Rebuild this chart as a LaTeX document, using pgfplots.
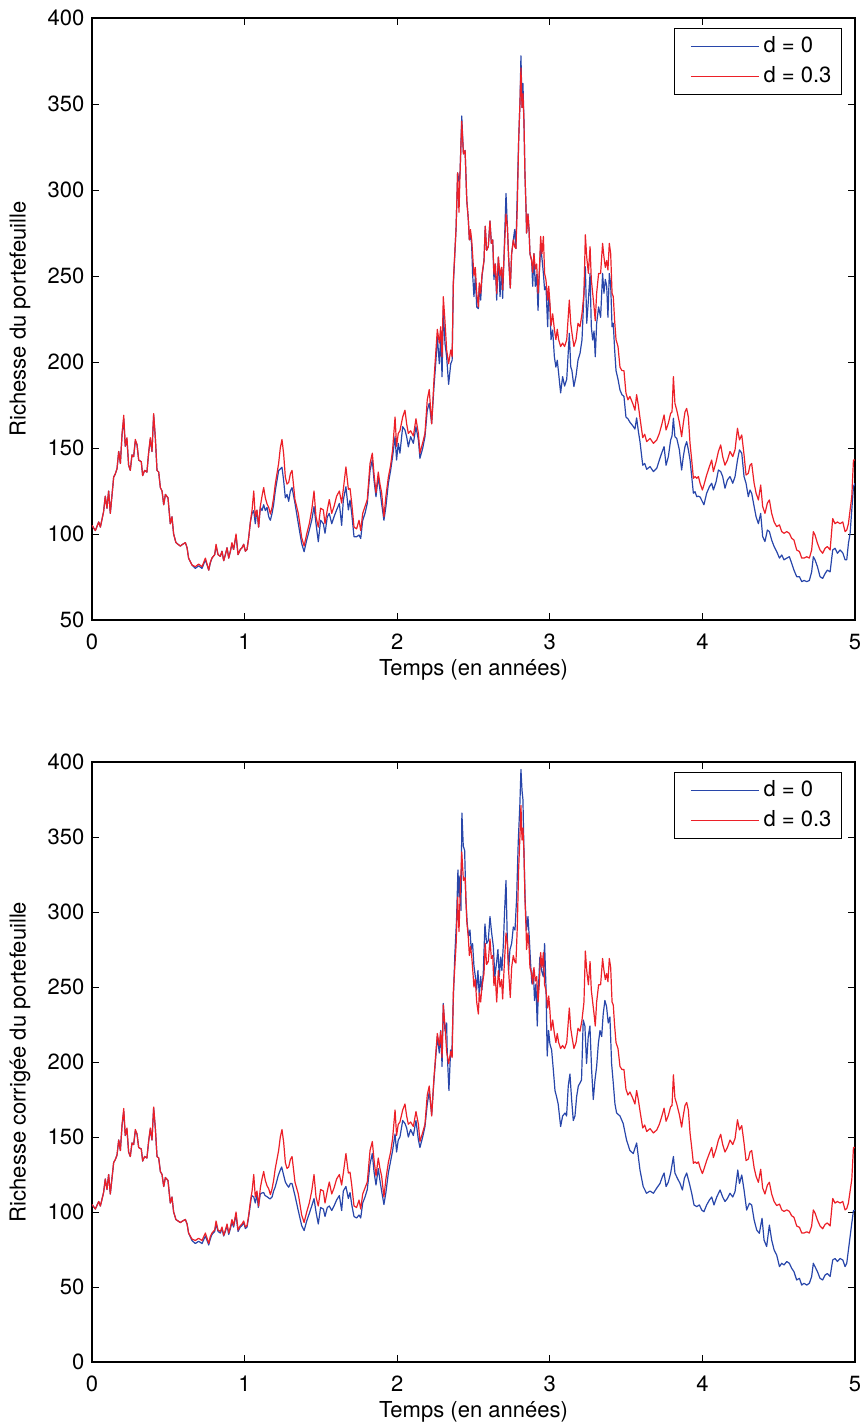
\documentclass[border=0pt]{standalone}
\usepackage{pgfplots}
\pgfplotsset{compat=1.18}
\usepackage{pgfplotstable}
\usepackage{fontspec}
\setmainfont{TeX Gyre Heros}
\definecolor{mblue}{RGB}{40,70,170}
\definecolor{mred}{RGB}{236,32,40}

\pgfplotstableread{
x y
0.000 105
0.022 102
0.044 107
0.055 104
0.076 113
0.087 122
0.098 115
0.109 125
0.120 112
0.142 133
0.153 135
0.164 138
0.175 148
0.186 141
0.197 158
0.208 169
0.218 151
0.229 156
0.240 140
0.251 137
0.262 146
0.273 145
0.284 155
0.295 152
0.306 143
0.323 142
0.332 134
0.345 137
0.360 136
0.371 147
0.382 156
0.393 148
0.404 170
0.415 156
0.426 137
0.437 136
0.448 127
0.459 125
0.470 117
0.481 123
0.498 121
0.513 106
0.524 110
0.535 100
0.550 95
0.564 94
0.579 93
0.594 94
0.612 95
0.623 92
0.633 86
0.655 82
0.677 81
0.699 82.5
0.721 81
0.743 86
0.754 82.5
0.765 79
0.775 83.5
0.786 86
0.804 88
0.813 94
0.826 88
0.841 87
0.852 90
0.863 84.5
0.874 88
0.885 92
0.896 86
0.907 90
0.917 95
0.928 91
0.944 100
0.957 88
0.972 91
0.983 92
0.994 94
1.005 90
1.016 91
1.027 98
1.038 107
1.049 114
1.060 125
1.070 110
1.081 114
1.092 104
1.103 116
1.114 122
1.125 127
1.136 121
1.147 117.5
1.158 115.5
1.169 111.6
1.180 115.5
1.190 121
1.201 129
1.212 135
1.223 141
1.234 150
1.245 155
1.256 146.5
1.267 133
1.278 129
1.289 130
1.300 135
1.311 137
1.330 120
1.352 112
1.374 98
1.390 93
1.407 100
1.424 106
1.440 114
1.455 125
1.468 110
1.483 104
1.498 115
1.516 114
1.527 106
1.542 114
1.555 120
1.571 112
1.586 116
1.603 122
1.621 125
1.636 118
1.647 126
1.664 139
1.680 126
1.691 126.5
1.702 118
1.717 104
1.734 103
1.750 108
1.761 102
1.774 112
1.789 116
1.804 120
1.822 141
1.837 147
1.848 135
1.861 124
1.876 136
1.887 129
1.898 124
1.913 110
1.926 122
1.942 133
1.957 140
1.970 149
1.986 168
1.996 151
2.007 158.5
2.018 160
2.036 168
2.051 172
2.062 164
2.073 158.5
2.088 160
2.106 157
2.123 167
2.139 158.5
2.149 147
2.167 153
2.182 158.5
2.197 178
2.210 184
2.226 164
2.241 189.5
2.254 207
2.263 219
2.276 211
2.285 220.5
2.294 203
2.302 238
2.313 224
2.324 207
2.337 199
2.351 207
2.360 203
2.368 247
2.386 278
2.396 310
2.405 287
2.412 310
2.423 340
2.434 321
2.445 323
2.456 294
2.466 283
2.473 271
2.480 277
2.488 271
2.494 263
2.503 250
2.512 255
2.521 240
2.532 232
2.538 246
2.547 240
2.556 251
2.569 259
2.577 279
2.586 265
2.597 267
2.608 282
2.617 269
2.626 271
2.634 251
2.643 257
2.652 240
2.663 261
2.674 250
2.684 255
2.691 242
2.700 261
2.713 286
2.722 279
2.730 261
2.741 243
2.750 263
2.761 271
2.770 267
2.778 266
2.787 290
2.796 329
2.805 352
2.811 371
2.818 348
2.824 356
2.831 339
2.837 310
2.844 290
2.848 275
2.857 286
2.864 277
2.870 263
2.881 259
2.888 252
2.896 263
2.905 254
2.914 257
2.923 240
2.931 251.5
2.940 273
2.949 263
2.958 273
2.966 251.5
2.975 247.7
2.986 236
2.993 244
3.001 234
3.008 221
3.019 228
3.030 219
3.040 213
3.049 219
3.058 213
3.071 209
3.084 211
3.097 209
3.111 213
3.128 236
3.137 222.5
3.145 217
3.158 209
3.172 213
3.185 222.5
3.198 220.5
3.211 228
3.224 240
3.233 274
3.242 261
3.253 251.5
3.264 267
3.272 248
3.281 240
3.290 232
3.298 224
3.307 240
3.320 251.5
3.333 251.5
3.346 269
3.355 261
3.364 255
3.373 259
3.381 253.5
3.390 269
3.399 263
3.408 240
3.416 238
3.425 224
3.434 213
3.447 209
3.460 197
3.473 195
3.486 195
3.499 182
3.512 178
3.525 180
3.543 176
3.558 172
3.569 181
3.580 175
3.591 167.5
3.609 156
3.622 158
3.635 153.7
3.657 155.6
3.679 152.7
3.701 154.7
3.718 158.5
3.733 163.4
3.749 169.2
3.762 160.5
3.777 164.4
3.792 170.2
3.801 171
3.810 191.5
3.820 176
3.832 172
3.849 165
3.864 156.6
3.875 164.4
3.886 171
3.897 173
3.908 168
3.919 152.7
3.930 143
3.941 132.4
3.952 133.4
3.963 132.4
3.974 133.4
3.985 129.5
4.000 125.6
4.010 128.5
4.028 134.3
4.046 139.2
4.061 143
4.072 136.3
4.090 142
4.105 148
4.120 151.8
4.133 145
4.148 140
4.164 143
4.181 148
4.199 145
4.214 149
4.230 161.5
4.243 154.7
4.258 157.6
4.273 146
4.286 134.3
4.301 135.3
4.312 140
4.323 141
4.339 129.5
4.352 123.7
4.367 119.8
4.382 128.5
4.395 116
4.410 112
4.426 118
4.439 119.8
4.454 112
4.470 107
4.487 104.3
4.505 105.3
4.520 101.4
4.535 100.4
4.553 101.4
4.570 100.4
4.585 97.5
4.600 96.5
4.618 90.7
4.636 89.8
4.651 86
4.666 86
4.684 86.8
4.701 86
4.716 90.7
4.727 101.4
4.738 99.4
4.754 94.6
4.771 90.7
4.788 88.8
4.804 91.7
4.819 92.7
4.837 90.7
4.854 109
4.869 106
4.885 107
4.902 106
4.920 107
4.935 101.4
4.946 102.3
4.957 106
4.968 114
4.979 121.7
4.990 143
5.000 143
}\redtab

\pgfplotstableread{
x y
0.000 105
0.022 102
0.044 107
0.055 104
0.076 113
0.087 122
0.098 115
0.109 125
0.120 112
0.142 133
0.153 135
0.164 138
0.175 148
0.186 141
0.197 158
0.208 167
0.218 151
0.229 155
0.240 140
0.251 137
0.262 146
0.273 145
0.284 154
0.295 152
0.306 143
0.323 142
0.332 134
0.345 137
0.360 136
0.371 147
0.382 155
0.393 148
0.404 169
0.415 156
0.426 137
0.437 136
0.448 127
0.459 125
0.470 117
0.481 123
0.498 121
0.513 106
0.524 110
0.535 100
0.550 95
0.564 94
0.579 93
0.594 94
0.612 95
0.623 92
0.633 86
0.655 82
0.677 80
0.699 81.5
0.721 80
0.743 85
0.754 82
0.765 79
0.775 83
0.786 86
0.804 88
0.813 93
0.826 88
0.841 87
0.852 90
0.863 84.5
0.874 88
0.885 92
0.896 86
0.907 90
0.917 94
0.928 91
0.944 99
0.957 88
0.972 91
0.983 92
0.994 94
1.005 90
1.016 91
1.027 98
1.038 107
1.049 112
1.060 113.6
1.070 106
1.081 113.6
1.092 104
1.103 115.5
1.114 113.6
1.125 117
1.136 113.6
1.147 115.5
1.158 110
1.169 108
1.180 112
1.190 117
1.201 125
1.212 131
1.223 136.8
1.234 137.8
1.245 138.8
1.256 131
1.267 121
1.278 123
1.289 119
1.300 125
1.311 127
1.330 118
1.352 106
1.374 94.5
1.390 89.7
1.407 96.5
1.424 102.3
1.440 108
1.455 116
1.468 106
1.483 95.5
1.498 108
1.516 106
1.527 100.4
1.542 110
1.555 112
1.571 106
1.586 110
1.603 114
1.621 117.8
1.636 105
1.647 119.7
1.664 127.5
1.680 114
1.691 119.7
1.702 112
1.717 98.4
1.734 98.4
1.750 99.4
1.761 97.4
1.774 108
1.789 112
1.804 117.8
1.822 137
1.837 143
1.848 131.4
1.861 121.7
1.876 133.3
1.887 125.6
1.898 117.8
1.913 108
1.926 115.9
1.942 129.4
1.957 137
1.970 145
1.986 156.6
1.996 143
2.007 152.7
2.018 147
2.036 162.4
2.051 160.4
2.062 156.6
2.073 150.7
2.088 156.6
2.106 152.7
2.123 162.4
2.139 154.6
2.149 144
2.167 149.8
2.182 156.6
2.197 172
2.210 176
2.226 164.3
2.241 185.6
2.254 201
2.263 214.7
2.276 199
2.285 214.7
2.294 191.4
2.302 230
2.313 211
2.324 203
2.337 187
2.351 199
2.360 201
2.368 245
2.386 278
2.396 310
2.405 305
2.412 310
2.423 343
2.434 321
2.445 323
2.456 294
2.466 283
2.473 271
2.480 275
2.488 268
2.494 251.5
2.503 238
2.512 250
2.521 232
2.532 231
2.538 244
2.547 236
2.556 250
2.569 259
2.577 279
2.586 265
2.597 267
2.608 282
2.617 269
2.626 271
2.634 248
2.643 257
2.652 236
2.663 261
2.674 238
2.684 255
2.691 237
2.700 261
2.713 298
2.722 279
2.730 261
2.741 243
2.750 263
2.761 271
2.770 277
2.778 266
2.787 298
2.796 329
2.805 352
2.811 378
2.818 348
2.824 362
2.831 339
2.837 310
2.844 290
2.848 275
2.857 286
2.864 277
2.870 263
2.881 259
2.888 244
2.896 263
2.905 244
2.914 251
2.923 230
2.931 251
2.940 267
2.949 260
2.958 251.5
2.966 242
2.975 244
2.986 220.5
2.993 240
3.001 232
3.008 213
3.019 218.6
3.030 203
3.040 197
3.049 201
3.058 193.4
3.071 182
3.084 191.5
3.097 186
3.111 190
3.128 216.7
3.137 197.3
3.145 195
3.158 185.7
3.172 192
3.185 201.2
3.198 205
3.211 212.8
3.224 240
3.233 255.4
3.242 222.5
3.253 236
3.264 251.5
3.272 220.5
3.281 212.8
3.290 218
3.298 203
3.307 222.5
3.320 232
3.333 226
3.346 251.5
3.355 240
3.364 248
3.373 244
3.381 226
3.390 251.5
3.399 245
3.408 220.5
3.416 222.5
3.425 207
3.434 195
3.447 190
3.460 183.7
3.473 181
3.486 180
3.499 168
3.512 167
3.525 165
3.543 163
3.558 161
3.569 167.5
3.580 160
3.591 153.7
3.609 140
3.622 141
3.635 137.6
3.657 139.2
3.679 136.3
3.701 138.2
3.718 143
3.733 147
3.749 150.8
3.762 140
3.777 145
3.792 154.7
3.801 157
3.810 167.3
3.820 156.6
3.832 155.6
3.849 149
3.864 137.2
3.875 145
3.886 150.8
3.897 153.7
3.908 149
3.919 143
3.930 133.4
3.941 123.7
3.952 124.6
3.963 121.7
3.974 122
3.985 121.5
4.000 118.8
4.010 117
4.028 123.7
4.046 127.5
4.061 129.5
4.072 125.6
4.090 130.4
4.105 137.2
4.120 136.3
4.133 133.4
4.148 126.6
4.164 131.4
4.181 133.4
4.199 129.5
4.214 133.4
4.230 143
4.243 148.9
4.258 147
4.273 133.4
4.286 129.5
4.301 121.7
4.312 125.6
4.323 123.7
4.339 116
4.352 110
4.367 106
4.382 112
4.395 98.5
4.410 95.6
4.426 102.3
4.439 101.4
4.454 96.5
4.470 92.7
4.487 89.8
4.505 86
4.520 87.8
4.535 85
4.553 86
4.570 86.8
4.585 83
4.600 79
4.618 75.2
4.636 75.2
4.651 72.3
4.666 73
4.684 72.3
4.701 73
4.716 78
4.727 86.8
4.738 85
4.754 81
4.771 75.2
4.788 74.2
4.804 77
4.819 79
4.837 78
4.854 90.7
4.869 91.7
4.885 88.8
4.902 90.7
4.920 89
4.935 85
4.946 85
4.957 94.6
4.968 100.4
4.979 114
4.990 127.5
5.000 129.5
}\bluetab

\pgfplotstableread{
x y
0.000 105
0.022 102
0.044 107
0.055 104
0.076 113
0.087 122
0.098 115
0.109 125
0.120 112
0.142 133
0.153 135
0.164 138
0.175 148
0.186 141
0.197 158
0.208 167
0.218 151
0.229 155
0.240 140
0.251 137
0.262 146
0.273 145
0.284 154
0.295 152
0.306 143
0.323 142
0.332 134
0.345 137
0.360 136
0.371 147
0.382 155
0.393 148
0.404 169
0.415 156
0.426 137
0.437 136
0.448 127
0.459 125
0.470 117
0.481 123
0.498 121
0.513 106
0.524 110
0.535 100
0.550 95
0.564 94
0.579 93
0.594 94
0.612 95
0.623 92
0.633 86
0.655 81
0.677 79
0.699 80.5
0.721 79
0.743 84
0.754 81
0.765 78
0.775 82
0.786 85
0.804 87
0.813 92
0.826 87
0.841 86
0.852 89
0.863 84
0.874 87
0.885 91
0.896 85
0.907 89
0.917 93
0.928 90
0.944 98
0.957 87
0.972 90
0.983 91
0.994 93
1.005 89
1.016 90
1.027 97
1.046 111
1.060 110
1.070 106
1.081 112
1.090 103
1.103 112
1.112 112.6
1.125 113
1.134 111
1.150 110
1.166 108.7
1.180 110
1.190 114
1.200 116.5
1.212 121
1.221 124.5
1.234 128
1.243 130
1.256 124.5
1.267 120
1.278 118
1.289 116.5
1.300 119
1.311 119
1.330 111
1.352 100.8
1.374 91
1.390 87.6
1.407 94
1.424 99
1.440 104
1.455 109
1.468 100
1.483 92
1.498 103
1.516 102
1.527 97
1.542 103
1.555 104
1.571 101
1.586 104
1.603 108
1.621 111
1.636 101
1.647 114
1.664 117
1.680 109
1.691 113
1.702 105
1.717 97
1.734 96
1.750 98
1.761 96
1.774 106
1.789 110
1.804 115
1.822 132
1.837 139
1.848 127
1.861 118
1.876 129
1.887 121
1.898 114
1.913 105
1.926 113
1.942 126
1.957 134
1.970 141
1.986 152
1.996 140
2.007 148
2.018 150
2.036 161
2.051 159
2.062 156
2.073 150
2.088 155
2.106 151
2.123 161
2.139 148
2.149 143
2.167 150
2.182 157
2.197 172
2.210 180
2.226 165
2.241 188
2.254 205
2.263 217
2.276 206
2.285 221
2.294 197
2.302 239
2.313 221
2.324 226
2.328 206
2.339 181
2.350 208
2.358 204
2.367 239
2.378 272
2.389 295
2.398 328
2.405 310
2.411 324
2.418 301
2.424 366
2.433 344
2.442 341
2.450 308
2.459 292
2.468 284
2.477 288
2.485 275
2.494 279
2.503 264
2.512 257
2.520 248
2.529 261
2.538 244
2.547 257
2.555 248
2.564 259
2.575 292
2.586 279
2.597 281
2.608 297
2.619 286
2.630 277
2.640 257
2.651 266
2.660 275
2.669 257
2.678 270
2.686 261
2.695 277
2.704 301
2.713 321
2.721 284
2.730 261
2.739 275
2.750 279
2.761 290
2.772 288
2.783 310
2.793 346
2.804 372
2.811 395
2.818 381
2.824 375
2.831 339
2.839 306
2.848 288
2.857 297
2.865 284
2.874 266
2.883 252
2.892 261
2.900 241
2.909 252
2.918 224
2.926 250
2.935 270
2.946 261
2.957 257
2.966 279
2.975 250
2.983 204
2.992 221
3.001 212
3.012 208
3.023 195
3.034 181
3.044 177
3.055 172
3.071 157
3.084 164
3.100 166
3.110 164
3.121 184
3.132 192
3.143 175
3.154 161
3.165 164
3.176 177
3.187 184
3.198 186
3.208 188
3.219 228
3.230 224
3.241 199
3.252 217
3.263 224
3.274 195
3.285 175
3.296 188
3.307 197
3.318 212
3.329 221
3.340 217
3.350 232
3.361 241
3.372 237
3.383 226
3.394 230
3.405 199
3.416 186
3.427 172
3.438 166
3.460 164
3.481 159
3.503 148
3.525 141
3.547 139
3.569 146
3.591 128
3.612 117
3.634 112.5
3.657 114
3.679 112.5
3.701 116
3.722 119
3.738 123.6
3.749 126
3.762 117
3.777 120
3.792 126
3.810 137
3.820 126
3.836 122.5
3.854 119
3.869 114.7
3.882 122.5
3.897 126
3.915 119
3.930 112.5
3.945 104.7
3.963 103.6
3.980 104.7
3.996 101.3
4.010 100.2
4.028 104.7
4.046 108
4.061 110
4.076 104.7
4.094 110
4.116 114.7
4.133 110
4.148 107
4.164 109
4.181 112.5
4.199 110
4.214 113.6
4.232 128
4.243 119
4.258 124.7
4.273 114.7
4.290 101.3
4.308 105.8
4.323 104.7
4.339 94.7
4.356 88
4.373 85.8
4.391 95.8
4.404 81.3
4.421 77
4.439 91.3
4.454 81.3
4.470 74.7
4.487 71.3
4.505 63.6
4.520 65.8
4.535 64.7
4.553 67
4.570 65.8
4.585 62.5
4.600 60.2
4.618 54.7
4.636 55.8
4.651 51.3
4.666 52.5
4.684 51.3
4.701 52.5
4.716 57
4.727 65.8
4.738 63.6
4.754 60.2
4.771 55.8
4.788 54.7
4.804 58
4.819 59
4.837 57
4.854 68
4.869 69
4.885 67
4.902 69
4.920 68
4.935 63.6
4.946 65.8
4.957 74.7
4.968 83.6
4.979 92.5
4.990 101
5.000 101
}\bluetabb

\pgfplotsset{
  mstyle/.style={
    scale only axis,
    width=381.5pt,
    xmin=0, xmax=5,
    xtick={0,1,2,3,4,5},
    tick align=inside,
    major tick length=3.5pt,
    tick style={black, line width=0.5pt},
    axis line style={line width=0.6pt},
    /pgf/number format/assume math mode=true,
    xticklabel style={yshift=-3pt},
    every axis y label/.style={at={(axis description cs:-0.0944,0.5)},rotate=90,anchor=center},
    every axis x label/.style={at={(axis description cs:0.5,0)},yshift=-25pt,anchor=center},
    legend cell align=left,
    legend style={at={(axis description cs:1,1)}, anchor=north east, xshift=-6.5pt, yshift=-5pt,
      draw=black, line width=0.5pt, inner xsep=3pt, inner ysep=2pt, row sep=1.5pt},
    legend image code/.code={\path (-5pt,0pt); \draw[#1] (0pt,0pt) -- (34pt,0pt);},
    no markers,
  }
}

\begin{document}
\fontsize{11}{13}\selectfont
\begin{tikzpicture}
\useasboundingbox (-46pt,-402.5pt) rectangle (385.5pt,310pt);
\begin{axis}[mstyle, height=301pt, at={(0,0)}, anchor=south west,
  ymin=50, ymax=400, ytick={50,100,...,400},
  xlabel={Temps (en années)}, ylabel={Richesse du portefeuille}]
\addplot[mblue, line width=0.6pt, line join=round] table[x=x,y=y] {\bluetab};
\addlegendentry{d = 0}
\addplot[mred, line width=0.6pt, line join=round] table[x=x,y=y] {\redtab};
\addlegendentry{d = 0.3}
\end{axis}
\begin{axis}[mstyle, height=300pt, at={(0,-71pt)}, anchor=north west,
  ymin=0, ymax=400, ytick={0,50,...,400},
  xlabel={Temps (en années)}, ylabel={Richesse corrigée du portefeuille}]
\addplot[mblue, line width=0.6pt, line join=round] table[x=x,y=y] {\bluetabb};
\addlegendentry{d = 0}
\addplot[mred, line width=0.6pt, line join=round] table[x=x,y=y] {\redtab};
\addlegendentry{d = 0.3}
\end{axis}
\end{tikzpicture}
\end{document}
